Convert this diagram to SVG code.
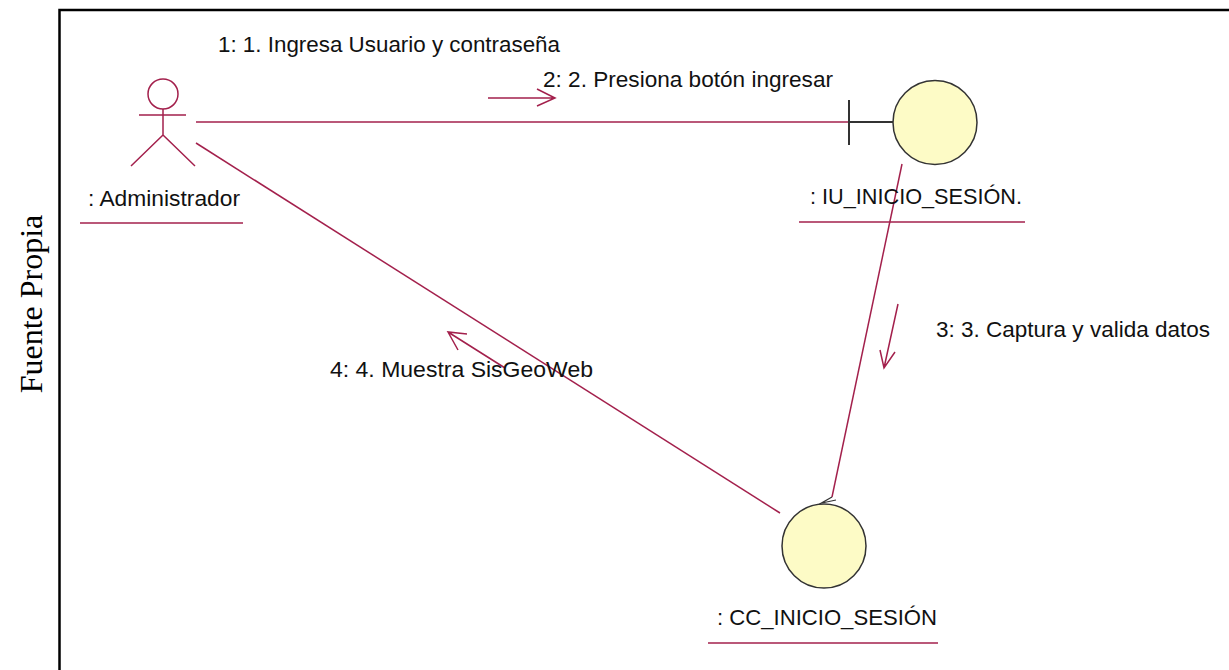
<svg xmlns="http://www.w3.org/2000/svg" width="1229" height="670" viewBox="0 0 1229 670">
<style>
.ln{stroke:#a3204c;stroke-width:1.5;fill:none}
.obj{fill:#fdfbc6;stroke:#333;stroke-width:1.5}
.t{font-family:"Liberation Sans",Arial,sans-serif;font-size:22px;fill:#111}
.frame{stroke:#000;stroke-width:2.5;fill:none}
</style>
<rect width="1229" height="670" fill="#fff"/>
<path class="frame" d="M59.5,670 V10 H1229"/>
<text x="31" y="304" transform="rotate(-90 31 304)" text-anchor="middle" dominant-baseline="central" font-family="Liberation Serif,Times New Roman,serif" font-size="32" fill="#000">Fuente Propia</text>
<g id="connectors">
<line class="ln" x1="196" y1="122" x2="849" y2="122"/>
<line class="ln" x1="196" y1="143" x2="780" y2="513"/>
<line class="ln" x1="902" y1="164" x2="832" y2="497"/>
<path d="M832,497 L818,505 L833,511 M822,503 L836,500" stroke="#333" stroke-width="1.2" fill="none"/>
<g id="msg1"><text class="t" x="218" y="52" textLength="342" lengthAdjust="spacingAndGlyphs">1: 1. Ingresa Usuario y contraseña</text></g>
<g id="msg2"><path class="ln" d="M488,98 H555 M537,89 L555,98 L537,106"/><text class="t" x="543" y="87" textLength="290" lengthAdjust="spacingAndGlyphs">2: 2. Presiona botón ingresar</text></g>
<g id="msg3"><path class="ln" d="M898,304 L884,368 M880,350 L884,368 L895,352"/><text class="t" x="936" y="337" textLength="274" lengthAdjust="spacingAndGlyphs">3: 3. Captura y valida datos</text></g>
<g id="msg4"><path class="ln" d="M505,368 L448,332 M467,334 L448,332 L458,350"/><text class="t" x="330" y="377" textLength="263" lengthAdjust="spacingAndGlyphs">4: 4. Muestra SisGeoWeb</text></g>
</g>
<g id="administrador">
<circle class="ln" cx="163" cy="94" r="15"/>
<path class="ln" d="M163,109 V135 M139,115 H186 M131,166 L163,135 L195,166"/>
<text class="t" x="88" y="206" textLength="152" lengthAdjust="spacingAndGlyphs">: Administrador</text>
<line class="ln" x1="80" y1="223" x2="243" y2="223"/>
</g>
<g id="iu_inicio_sesion">
<path d="M849,100 V145 M849,122 H893" stroke="#333" stroke-width="2" fill="none"/>
<circle class="obj" cx="935" cy="122.5" r="42"/>
<text class="t" x="810" y="204" textLength="212" lengthAdjust="spacingAndGlyphs">: IU_INICIO_SESIÓN.</text>
<line class="ln" x1="799" y1="222" x2="1025" y2="222"/>
</g>
<g id="cc_inicio_sesion">
<circle class="obj" cx="824" cy="546" r="42"/>
<text class="t" x="717" y="625" textLength="220" lengthAdjust="spacingAndGlyphs">: CC_INICIO_SESIÓN</text>
<line class="ln" x1="708" y1="643" x2="938" y2="643"/>
</g>
</svg>
